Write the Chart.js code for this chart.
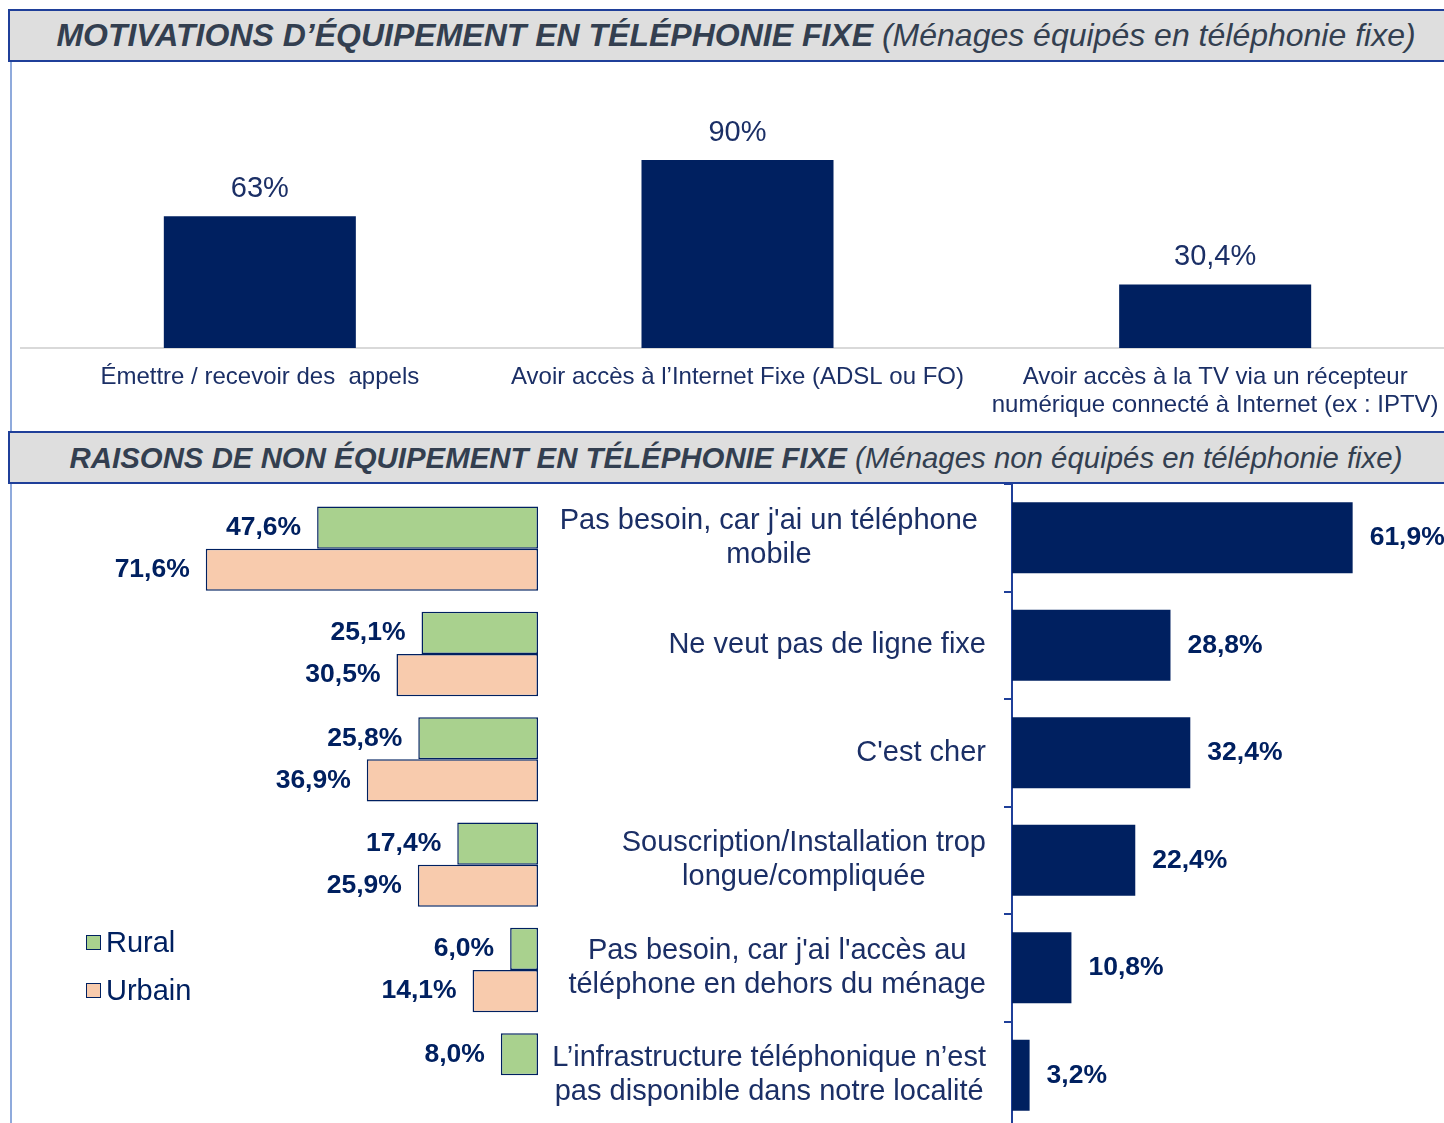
<!DOCTYPE html>
<html lang="fr">
<head>
<meta charset="utf-8">
<script src="https://cdn.jsdelivr.net/npm/chart.js@4.4.1/dist/chart.umd.min.js"></script>
<style>
  body { margin: 0; width: 1444px; height: 1123px; overflow: hidden; background: #fff; position: relative;
         font-family: "Liberation Sans", Arial, sans-serif; }
  .bandeau { position: absolute; left: 8px; width: 1440px; height: 49px; background: #dedede;
             border-top: 2px solid #1f3f99; border-bottom: 2px solid #1f3f99; border-left: 2px solid #1f3f99;
             color: #333f50; font-style: italic; line-height: 49px; text-align: center; white-space: nowrap; }
  .bandeau b { font-weight: bold; }
  .filet { position: absolute; left: 10px; top: 62px; width: 2px; height: 1061px; background: #8faadc; }
  canvas { position: absolute; }
  .legende { position: absolute; left: 86px; font-size: 29px; color: #002060; line-height: 32px; }
  .legende span { display: inline-block; width: 13px; height: 13px; border: 1.5px solid #002060; margin-right: 5px; vertical-align: 2px; }
</style>
</head>
<body>
<div class="bandeau" style="top: 9px; font-size: 32px; padding-left: 6px"><b>MOTIVATIONS D’ÉQUIPEMENT EN TÉLÉPHONIE FIXE</b> (Ménages équipés en téléphonie fixe)</div>
<div class="filet"></div>
<canvas id="haut" width="1444" height="370" style="left: 10px; top: 62px"></canvas>
<div class="bandeau" style="top: 431px; font-size: 29.4px; padding-left: 6px"><b>RAISONS DE NON ÉQUIPEMENT EN TÉLÉPHONIE FIXE</b> (Ménages non équipés en téléphonie fixe)</div>
<canvas id="gauche" width="528" height="650" style="left: 12px; top: 484px"></canvas>
<canvas id="droite" width="904" height="650" style="left: 540px; top: 484px"></canvas>
<div class="legende" style="top: 926px"><span style="background:#a9d18e"></span>Rural</div>
<div class="legende" style="top: 974px"><span style="background:#f8cbad"></span>Urbain</div>

<script>
// motivations (ménages équipés)
const motivations = [
    'Émettre / recevoir des  appels',
    'Avoir accès à l’Internet Fixe (ADSL ou FO)',
    ['Avoir accès à la TV via un récepteur', 'numérique connecté à Internet (ex : IPTV)']
];
const motivValeurs = [63, 90, 30.4];

// raisons (ménages non équipés)
const raisons = [
    ['Pas besoin, car j\'ai un téléphone', 'mobile'],
    ['Ne veut pas de ligne fixe'],
    ['C\'est cher'],
    ['Souscription/Installation trop', 'longue/compliquée'],
    ['Pas besoin, car j\'ai l\'accès au', 'téléphone en dehors du ménage'],
    ['L’infrastructure téléphonique n’est', 'pas disponible dans notre localité']
];
const rural = [47.6, 25.1, 25.8, 17.4, 6.0, 8.0];
const urbain = [71.6, 30.5, 36.9, 25.9, 14.1, null];
const ensemble = [61.9, 28.8, 32.4, 22.4, 10.8, 3.2];

const marine = '#002060';
const texte = '#1b2f66';
const police = '"Liberation Sans", Arial, sans-serif';

// 63 -> "63%", 30.4 -> "30,4%"
function pct(v) {
    return (Number.isInteger(v) ? String(v) : v.toFixed(1).replace('.', ',')) + '%';
}
// toujours une décimale : 6 -> "6,0%"
function pct1(v) {
    return v.toFixed(1).replace('.', ',') + '%';
}

// étiquettes des barres
function etiquettes(fn) {
    return { id: 'etiq', afterDatasetsDraw(chart) { fn(chart, chart.ctx); } };
}

// graphique du haut
new Chart(document.getElementById('haut'), {
    type: 'bar',
    data: {
        labels: motivations,
        datasets: [{ data: motivValeurs, backgroundColor: marine, barPercentage: 0.402, categoryPercentage: 1 }]
    },
    options: {
        responsive: false, animation: false,
        layout: { padding: { top: 77, left: 11 } },
        plugins: { legend: { display: false }, tooltip: { enabled: false } },
        scales: {
            x: {
                grid: { display: false, drawTicks: false },
                border: { color: '#d9d9d9', width: 2 },
                ticks: { color: texte, padding: 15, maxRotation: 0, autoSkip: false,
                         font: { family: police, size: 24, lineHeight: 1.167 } },
                afterFit: s => { s.height = 84; }
            },
            y: { display: false, min: 0, max: 100 }
        }
    },
    plugins: [etiquettes((chart, ctx) => {
        ctx.save();
        ctx.font = '29px ' + police;
        ctx.fillStyle = texte;
        ctx.textAlign = 'center';
        ctx.textBaseline = 'middle';
        chart.getDatasetMeta(0).data.forEach((b, i) => ctx.fillText(pct(motivValeurs[i]), b.x, b.y - 27));
        ctx.restore();
    })]
});

// rural / urbain (axe inversé)
new Chart(document.getElementById('gauche'), {
    type: 'bar',
    data: {
        labels: raisons.map(r => r.join(' ')),
        datasets: [
            { label: 'Rural', data: rural, backgroundColor: '#a9d18e' },
            { label: 'Urbain', data: urbain, backgroundColor: '#f8cbad' }
        ]
    },
    options: {
        indexAxis: 'y',
        responsive: false, animation: false,
        layout: { padding: { top: 12, bottom: 6, left: 62, right: 2 } },
        datasets: { bar: { borderColor: marine, borderWidth: 1.5, borderSkipped: false,
                           categoryPercentage: 0.8, barPercentage: 1 } },
        plugins: { legend: { display: false }, tooltip: { enabled: false } },
        scales: {
            x: { display: false, min: 0, max: 100, reverse: true },
            y: { display: false }
        }
    },
    plugins: [etiquettes((chart, ctx) => {
        ctx.save();
        ctx.font = 'bold 26.5px ' + police;
        ctx.fillStyle = marine;
        ctx.textAlign = 'right';
        ctx.textBaseline = 'middle';
        [rural, urbain].forEach((serie, d) => {
            chart.getDatasetMeta(d).data.forEach((b, i) => {
                if (serie[i] == null) return;
                ctx.fillText(pct1(serie[i]), b.x - 16, b.y);
            });
        });
        ctx.restore();
    })]
});

// ensemble
new Chart(document.getElementById('droite'), {
    type: 'bar',
    data: {
        labels: raisons.map(r => r.join(' ')),
        datasets: [{ data: ensemble, backgroundColor: marine, barPercentage: 0.66, categoryPercentage: 1 }]
    },
    options: {
        indexAxis: 'y',
        responsive: false, animation: false,
        layout: { padding: { top: 0, bottom: 5 } },
        plugins: { legend: { display: false }, tooltip: { enabled: false } },
        scales: {
            x: { display: false, min: 0, max: 78.5 },
            y: {
                grid: { offset: true, drawOnChartArea: false, drawTicks: true, tickLength: 8,
                        color: '#1f3f99', lineWidth: 2 },
                border: { color: '#1f3f99', width: 2 },
                ticks: { display: false },
                afterFit: s => { s.width = 472; }
            }
        }
    },
    plugins: [etiquettes((chart, ctx) => {
        ctx.save();
        ctx.font = 'bold 26.5px ' + police;
        ctx.fillStyle = marine;
        ctx.textAlign = 'left';
        ctx.textBaseline = 'middle';
        chart.getDatasetMeta(0).data.forEach((b, i) => ctx.fillText(pct1(ensemble[i]), b.x + 17, b.y));
        // libellés des raisons, centrés ligne par ligne, calés à droite
        ctx.font = '29px ' + police;
        ctx.fillStyle = texte;
        ctx.textAlign = 'center';
        const ys = chart.scales.y;
        raisons.forEach((lignes, i) => {
            const larg = Math.max(...lignes.map(l => ctx.measureText(l).width));
            const cx = (i === 0 ? 438 : 446) - larg / 2;
            const y0 = ys.getPixelForValue(i) - (lignes.length - 1) * 17;
            lignes.forEach((l, k) => ctx.fillText(l, cx, y0 + k * 34));
        });
        ctx.restore();
    })]
});
</script>
</body>
</html>
